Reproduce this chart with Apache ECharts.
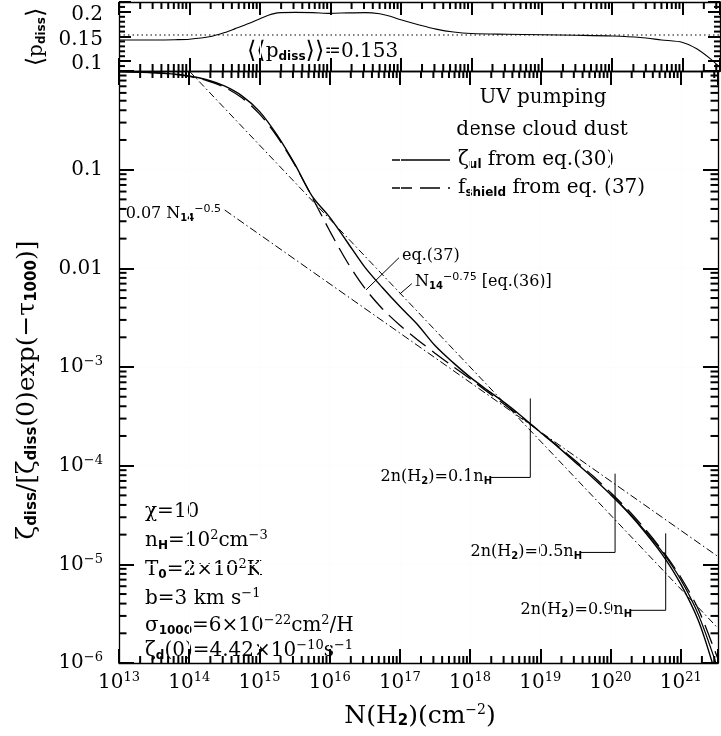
<!DOCTYPE html>
<html><head><meta charset="utf-8">
<script src="https://cdn.jsdelivr.net/npm/echarts@6/dist/echarts.min.js"></script>
<style>html,body{margin:0;padding:0;background:#fff}#c{width:721px;height:736px}</style>
</head><body><div id="c"></div>
<script>
const F = "'DejaVu Serif', serif";
const FS = "'DejaVu Sans', sans-serif";
const TICK = '#000';

// ---------- axis ranges ----------
const xMin = 1e13, xMax = 3.39e21;
const topYMin = 0.08, topYMax = 0.22;
const botYMin = 1e-6, botYMax = 1;
const topYLabels = [0.1, 0.15, 0.2];

// ---------- top panel: <p_diss> ----------
const pLogN = [13.0,13.5,13.8,14.0,14.3,14.5,14.65,14.85,15.0,15.12,15.25,15.5,15.75,16.0,16.25,16.5,16.7,16.85,17.0,17.25,17.5,17.75,18.0,18.5,19.0,19.5,20.0,20.4,20.7,21.0,21.2,21.4,21.53];
const pDiss = [0.143,0.143,0.1435,0.1445,0.150,0.158,0.166,0.177,0.186,0.193,0.198,0.199,0.1985,0.197,0.198,0.1985,0.196,0.191,0.184,0.174,0.165,0.159,0.156,0.1545,0.1535,0.1525,0.151,0.148,0.143,0.138,0.125,0.104,0.087];
const pMeanLogN = [13.0, 21.53];
const pMean = [0.153, 0.153];

// ---------- bottom panel ----------
const zLogN = [13,13.25,13.5,13.75,14,14.25,14.5,14.75,15,15.25,15.5,15.75,16,16.25,16.5,16.75,17,17.25,17.5,17.75,18,18.25,18.5,18.75,19,19.25,19.5,19.75,20,20.25,20.5,20.75,21,21.25,21.45];
const zetaUl = [0.985,0.977,0.962,0.935,0.89,0.815,0.705,0.56,0.39,0.225,0.115,0.054,0.033,0.0185,0.0103,0.0064,0.0041,0.0027,0.00165,0.00112,0.00079,0.00058,0.00043,0.00031,0.000218,0.000155,0.000108,7.5e-5,5.1e-5,3.35e-5,2.08e-5,1.22e-5,6.3e-6,2.7e-6,1.0e-6];
const tailLogN = [20.0,20.25,20.5,20.75,21.0,21.25,21.5];
const zetaUlTail = [5.1e-5,3.4e-5,2.15e-5,1.3e-5,7.0e-6,3.1e-6,1.0e-6];
const fLogN = [13,13.25,13.5,13.75,14,14.25,14.5,14.75,15,15.25,15.5,15.75,16,16.25,16.5,16.75,17,17.25,17.5,17.75,18,18.25,18.5,18.75,19,19.25,19.5,19.75,20,20.25,20.5,20.75,21,21.25,21.5,21.53];
const fShield = [0.987,0.977,0.960,0.930,0.880,0.801,0.686,0.535,0.368,0.218,0.113,0.0528,0.0240,0.0116,0.0063,0.0039,0.00265,0.00189,0.00138,0.00102,0.00076,0.000558,0.000412,0.000302,0.00022,0.000158,0.000112,7.85e-5,5.35e-5,3.55e-5,2.24e-5,1.34e-5,7.4e-6,3.5e-6,1.25e-6,1.1e-6];
const fitHalfN = [3.2e14, 3.39e21];
const fitHalf = [0.039, 1.2e-5];
const fitQuarterN = [1e14, 3.39e21];
const fitQuarter = [1.0, 2.25e-6];

// annotation guide lines (data coords)
const mark01N = [7.2e18, 7.2e18, 1.95e18], mark01V = [4.8e-4, 7.6e-5, 7.6e-5];
const mark05N = [1.16e20, 1.16e20, 3.69e19], mark05V = [8.3e-5, 1.32e-5, 1.32e-5];
const mark09N = [6.1e20, 6.1e20, 1.89e20], mark09V = [2.06e-5, 3.42e-6, 3.42e-6];
const ptr37N = [9.7e16, 3.3e16], ptr37V = [0.0128, 0.00605];
const ptr36N = [1.48e17, 1.0e17], ptr36V = [0.0070, 0.0055];

// ---------- helpers ----------
const pairs = (xs, ys, logx) => xs.map((x, i) => [logx ? Math.pow(10, x) : x, ys[i]]);

function minorLog(lo, hi, vmin, vmax) {
  const a = [];
  for (let d = lo; d <= hi; d++) for (let k = 2; k <= 9; k++) {
    const v = k * Math.pow(10, d);
    if (v > vmin * 1.0001 && v < vmax * 0.9999) a.push(v);
  }
  return a;
}
const xMinor = minorLog(13, 21, xMin, xMax);
const yMinorB = minorLog(-6, -1, botYMin, botYMax);
const yMinorT = [];
for (let i = 9; i <= 21; i++) if (i !== 10 && i !== 15 && i !== 20) yMinorT.push(i / 100);

const ticksTop = [], ticksBot = [];
xMinor.forEach(v => { ticksTop.push([v, topYMin, 0, -7]); ticksTop.push([v, topYMax, 0, 7]); });
yMinorT.forEach(v => { ticksTop.push([xMin, v, 6, 0]); ticksTop.push([xMax, v, -6, 0]); });
xMinor.forEach(v => { ticksBot.push([v, botYMin, 0, -7]); ticksBot.push([v, botYMax, 0, 7]); });
yMinorB.forEach(v => { ticksBot.push([xMin, v, 7.5, 0]); ticksBot.push([xMax, v, -7.5, 0]); });

function tickSeries(xi, yi, items) {
  return {
    type: 'custom', xAxisIndex: xi, yAxisIndex: yi, clip: false,
    dimensions: ['x', 'y', 'dx', 'dy'], encode: {x: 0, y: 1},
    data: items,
    renderItem: function (params, api) {
      const p = api.coord([api.value(0), api.value(1)]);
      return {type: 'line', shape: {x1: p[0], y1: p[1], x2: p[0] + api.value(2), y2: p[1] + api.value(3)},
        style: {stroke: TICK, lineWidth: 2}};
    }
  };
}

const labRich = {
  b: {fontSize: 20, fontFamily: F, color: '#000'},
  bt: {fontSize: 20, fontFamily: F, color: '#000', padding: [6, 0, 0, 0]},
  s: {fontSize: 13, fontFamily: F, color: '#000', padding: [0, 0, 10, 0]}
};
function xLab(v) {
  const e = Math.log10(v), r = Math.round(e);
  if (Math.abs(e - r) > 1e-6) return '';
  return '{b|10}{s|' + r + '}';
}
function yLabB(v) {
  const e = Math.log10(v), r = Math.round(e);
  if (Math.abs(e - r) > 1e-6 || r >= 0) return '';
  if (r === -1) return '{b|0.1}';
  if (r === -2) return '{b|0.01}';
  return '{b|10}{s|\u2212' + (-r) + '}';
}
function yLabT(v) {
  for (const t of topYLabels) if (Math.abs(v - t) < 1e-6) return '{bt|' + t + '}';
  return '';
}
function tk(len) { return {show: true, inside: true, length: len, lineStyle: {color: TICK, width: 2}}; }
const faintSplit = () => ({show: true, lineStyle: {color: '#fdfdfd', width: 1}});
function xAx(grid, pos, len, labels) {
  return {type: 'log', gridIndex: grid, position: pos, min: xMin, max: xMax,
    axisLine: {show: true, lineStyle: {color: '#000', width: 1.3}},
    splitLine: faintSplit(),
    axisTick: tk(len),
    axisLabel: labels ? {show: true, formatter: xLab, rich: labRich, margin: 8}
                      : {show: false}};
}
function yAxLog(pos, labels) {
  return {type: 'log', gridIndex: 1, position: pos, min: botYMin, max: botYMax,
    axisLine: {show: true, lineStyle: {color: '#000', width: 1.3}},
    splitLine: faintSplit(),
    axisTick: tk(15),
    axisLabel: labels ? {show: true, formatter: yLabB, rich: labRich, margin: 16}
                      : {show: false}};
}
function yAxTop(pos, labels) {
  return {type: 'value', gridIndex: 0, position: pos, min: topYMin, max: topYMax, splitNumber: 3,
    axisLine: {show: true, lineStyle: {color: '#000', width: 1.3}},
    splitLine: faintSplit(),
    axisTick: tk(12),
    axisLabel: labels ? {show: true, formatter: yLabT, rich: labRich, margin: 16}
                      : {show: false}};
}

const R = {
  n: {fontSize: 20, fontFamily: F, fill: '#000'},
  m: {fontSize: 16, fontFamily: F, fill: '#000'},
  t: {fontSize: 25, fontFamily: F, fill: '#000'},
  sub: {fontSize: 12, fontFamily: FS, fontWeight: 'bold', fill: '#000', padding: [9, 0, 0, 0]},
  subt: {fontSize: 15, fontFamily: FS, fontWeight: 'bold', fill: '#000', padding: [11, 0, 0, 0]},
  subm: {fontSize: 10, fontFamily: FS, fontWeight: 'bold', fill: '#000', padding: [8, 0, 0, 0]},
  sup: {fontSize: 13, fontFamily: F, fill: '#000', padding: [0, 0, 10, 0]},
  supt: {fontSize: 14, fontFamily: F, fill: '#000', padding: [0, 0, 11, 0]},
  supm: {fontSize: 11, fontFamily: FS, fill: '#000', padding: [0, 0, 9, 0]},
  big: {fontSize: 24, fontFamily: FS, fill: '#000'}
};
function T(x, y, text, align, rot) {
  const el = {type: 'text', x: x, y: y,
    style: {text: text, rich: R, align: align || 'left', textAlign: align || 'left',
      verticalAlign: 'middle', textVerticalAlign: 'middle', fill: '#000', font: '20px ' + F}};
  if (rot) el.rotation = rot;
  return el;
}
function L(x1, y1, x2, y2, dash) {
  return {type: 'line', shape: {x1, y1, x2, y2},
    style: {stroke: '#000', lineWidth: 1.3, lineDash: dash || null}};
}

const lineS = (name, xi, yi, data, type, width, smooth) => ({
  name, type: 'line', xAxisIndex: xi, yAxisIndex: yi, data, symbol: 'none', smooth: smooth || false,
  lineStyle: {color: '#000', width: width || 1.2, type: type || 'solid'}
});

const chart = echarts.init(document.getElementById('c'));
chart.setOption({
  animation: false,
  grid: [
    {left: 119, right: 1, top: 2, height: 69},
    {left: 119, right: 1, top: 71, bottom: 73}
  ],
  xAxis: [xAx(0, 'bottom', 13, false), xAx(0, 'top', 13, false), xAx(1, 'bottom', 14, true), xAx(1, 'top', 14, false)],
  yAxis: [yAxTop('left', true), yAxTop('right', false), yAxLog('left', true), yAxLog('right', false)],
  series: [
    tickSeries(0, 0, ticksTop),
    tickSeries(2, 2, ticksBot),
    lineS('pdiss', 0, 0, pairs(pLogN, pDiss, true), 'solid', 1.1, 0.3),
    lineS('pmean', 0, 0, pairs(pMeanLogN, pMean, true), [1.5, 3], 1.1),
    lineS('zeta_ul', 2, 2, pairs(zLogN, zetaUl, true), 'solid', 1.4, 0.3),
    lineS('zeta_ul_tail', 2, 2, pairs(tailLogN, zetaUlTail, true), 'solid', 1.2, 0.3),
    lineS('f_shield', 2, 2, pairs(fLogN, fShield, true), [20, 8], 1.3, 0.3),
    lineS('fit_half', 2, 2, pairs(fitHalfN, fitHalf, false), [8, 3, 1.5, 3], 1),
    lineS('fit_quarter', 2, 2, pairs(fitQuarterN, fitQuarter, false), [7, 3, 1.5, 3], 1),
    lineS('m01', 2, 2, pairs(mark01N, mark01V, false), 'solid', 1),
    lineS('m05', 2, 2, pairs(mark05N, mark05V, false), 'solid', 1),
    lineS('m09', 2, 2, pairs(mark09N, mark09V, false), 'solid', 1),
    lineS('p37', 2, 2, pairs(ptr37N, ptr37V, false), 'solid', 1),
    lineS('p36', 2, 2, pairs(ptr36N, ptr36V, false), 'solid', 1)
  ],
  graphic: [
    T(37, 37, '{big|\u27E8}{n|p}{sub|diss}{big|\u27E9}', 'center', Math.PI / 2),
    T(247, 52, '{big|\u27E8\u27E8}{n|p}{sub|diss}{big|\u27E9\u27E9}{n|=0.153}', 'left'),
    T(27, 390, '{t|\u03B6}{subt|diss}{t|/[\u03B6}{subt|diss}{t|(0)exp(\u2212\u03C4}{subt|1000}{t|)]}', 'center', Math.PI / 2),
    T(420, 716, '{t|N(H}{subt|2}{t|)(cm}{supt|\u22122}{t|)}', 'center'),
    T(543, 98, '{n|UV pumping}', 'center'),
    T(542, 130, '{n|dense cloud dust}', 'center'),
    L(392, 160, 450, 160),
    T(458, 160, '{n|\u03B6}{sub|ul}{n| from eq.(30)}', 'left'),
    L(392, 188, 450, 188, [20, 8]),
    T(458, 188, '{n|f}{sub|shield}{n| from eq. (37)}', 'left'),
    T(221, 214, '{m|0.07 N}{subm|14}{supm|\u22120.5}', 'right'),
    T(402, 256, '{m|eq.(37)}', 'left'),
    T(415, 282, '{m|N}{subm|14}{supm|\u22120.75}{m| [eq.(36)]}', 'left'),
    T(492, 477, '{m|2n(H}{subm|2}{m|)=0.1n}{subm|H}', 'right'),
    T(582, 552, '{m|2n(H}{subm|2}{m|)=0.5n}{subm|H}', 'right'),
    T(632, 610, '{m|2n(H}{subm|2}{m|)=0.9n}{subm|H}', 'right'),
    T(145, 512, '{n|\u03C7=10}', 'left'),
    T(145, 541, '{n|n}{sub|H}{n|=10}{sup|2}{n|cm}{sup|\u22123}', 'left'),
    T(145, 570, '{n|T}{sub|0}{n|=2\u00D710}{sup|2}{n|K}', 'left'),
    T(145, 599, '{n|b=3 km s}{sup|\u22121}', 'left'),
    T(145, 626, '{n|\u03C3}{sub|1000}{n|=6\u00D710}{sup|\u221222}{n|cm}{sup|2}{n|/H}', 'left'),
    T(145, 651, '{n|\u03B6}{sub|d}{n|(0)=4.42\u00D710}{sup|\u221210}{n|s}{sup|\u22121}', 'left')
  ]
});
</script>
</body></html>
